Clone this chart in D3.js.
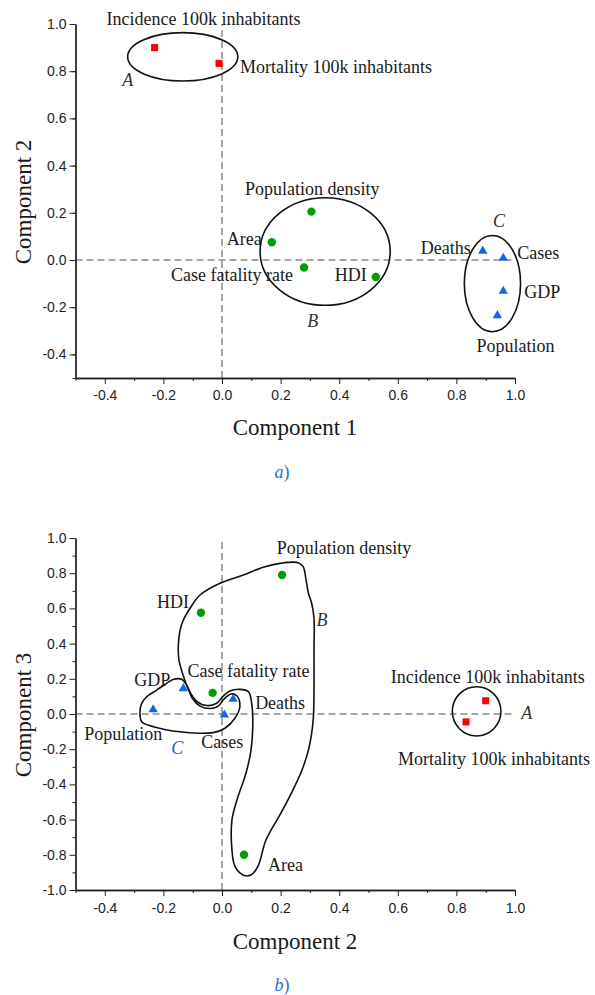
<!DOCTYPE html>
<html>
<head>
<meta charset="utf-8">
<script src="https://cdn.jsdelivr.net/npm/d3@7"></script>
<style>
  body { margin: 0; background: #fff; }
  svg { display: block; }
  .tick text { font-family: "Liberation Sans", Arial, sans-serif; font-size: 14px; fill: #222; }
  .lbl { font-family: "Liberation Serif", "Times New Roman", serif; font-size: 18px; fill: #1a1a1a; }
  .grp { font-family: "Liberation Serif", "Times New Roman", serif; font-size: 18px; font-style: italic; fill: #333; }
  .title { font-family: "Liberation Serif", "Times New Roman", serif; font-size: 23px; fill: #1a1a1a; }
  .cap { font-family: "Liberation Serif", "Times New Roman", serif; font-size: 18px; font-style: italic; fill: #1f6fd6; }
</style>
</head>
<body>
<svg id="chart" width="595" height="995"></svg>
<script>
// loadings
const variables = ['Incidence 100k inhabitants', 'Mortality 100k inhabitants', 'Population density', 'Area',
  'Case fatality rate', 'HDI', 'Deaths', 'Cases', 'GDP', 'Population']
const groups = ['A', 'A', 'B', 'B', 'B', 'B', 'C', 'C', 'C', 'C']
const comp1 = [-0.23, -0.01, 0.305, 0.17, 0.28, 0.525, 0.89, 0.96, 0.96, 0.94]
const comp2 = [0.90, 0.833, 0.205, 0.075, -0.032, -0.072, 0.038, 0.008, -0.132, -0.235]
const comp3 = [0.075, -0.045, 0.79, -0.80, 0.12, 0.575, 0.085, -0.005, 0.145, 0.025]

const xTicks = [-0.4, -0.2, 0.0, 0.2, 0.4, 0.6, 0.8, 1.0]
const yTicksA = [-0.4, -0.2, 0.0, 0.2, 0.4, 0.6, 0.8, 1.0]
const yTicksB = [-1.0, -0.8, -0.6, -0.4, -0.2, 0.0, 0.2, 0.4, 0.6, 0.8, 1.0]

// group outlines, in data units
const ellipsesA = [
  {cx: -0.134, cy: 0.861, rx: 0.188, ry: 0.1025},
  {cx: 0.352, cy: 0.036, rx: 0.222, ry: 0.228},
  {cx: 0.923, cy: -0.100, rx: 0.096, ry: 0.204},
]
const ellipsesB = [{cx: 0.869, cy: 0.015, rx: 0.083, ry: 0.14}]
const outlineB = [[-0.143, 0.477], [-0.132, 0.534], [-0.109, 0.601], [-0.075, 0.676], [-0.007, 0.743], [0.073, 0.790],
  [0.141, 0.834], [0.198, 0.856], [0.260, 0.860], [0.277, 0.837], [0.287, 0.761], [0.295, 0.686], [0.306, 0.629],
  [0.314, 0.544], [0.314, 0.364], [0.314, 0.136], [0.312, -0.015], [0.306, -0.110], [0.295, -0.205], [0.273, -0.318],
  [0.242, -0.432], [0.201, -0.563], [0.150, -0.716], [0.123, -0.864], [0.099, -0.915], [0.072, -0.915], [0.044, -0.864],
  [0.034, -0.773], [0.034, -0.602], [0.051, -0.489], [0.082, -0.335], [0.099, -0.205], [0.105, -0.072], [0.102, 0.051],
  [0.090, 0.127], [0.061, 0.140], [0.027, 0.131], [0.004, 0.102], [-0.018, 0.061], [-0.051, 0.048], [-0.085, 0.071],
  [-0.113, 0.136], [-0.133, 0.222], [-0.147, 0.307], [-0.149, 0.392]]
const outlineC = [[-0.280, 0.006], [-0.274, 0.061], [-0.257, 0.098], [-0.223, 0.136], [-0.189, 0.174], [-0.167, 0.196],
  [-0.138, 0.197], [-0.119, 0.159], [-0.102, 0.091], [-0.075, 0.045], [-0.041, 0.031], [-0.014, 0.043], [0.007, 0.085],
  [0.031, 0.114], [0.051, 0.102], [0.061, 0.041], [0.044, -0.024], [0.010, -0.081], [-0.030, -0.106], [-0.143, -0.101],
  [-0.234, -0.072], [-0.274, -0.044]]

// label placement: [anchor, dx, dy] in px from the marker
const placeA = {
  'Incidence 100k inhabitants': ['start', -48, -29], 'Mortality 100k inhabitants': ['start', 21, 4],
  'Population density': ['middle', 1, -23], 'Area': ['end', -10, -3], 'Case fatality rate': ['end', -11, 7],
  'HDI': ['end', -9, -2], 'Deaths': ['end', -12, -3], 'Cases': ['start', 14, -5], 'GDP': ['start', 21, 1],
  'Population': ['middle', 18, 31],
}
const placeB = {
  'Incidence 100k inhabitants': ['middle', 2, -24], 'Mortality 100k inhabitants': ['middle', 28, 37],
  'Population density': ['middle', 62, -27], 'Area': ['start', 24, 10], 'Case fatality rate': ['start', -25, -22],
  'HDI': ['end', -12, -11], 'Deaths': ['start', 22, 4], 'Cases': ['middle', -2, 27], 'GDP': ['end', -13, -8],
  'Population': ['middle', -30, 24],
}
const groupLetterA = [{t: 'A', x: -0.322, y: 0.763}, {t: 'B', x: 0.31, y: -0.258}, {t: 'C', x: 0.945, y: 0.167}]
const groupLetterB = [{t: 'B', x: 0.341, y: 0.534}, {t: 'C', x: -0.153, y: -0.191, blue: true}, {t: 'A', x: 1.04, y: 0.007}]

const colors = {A: '#ff0000', B: '#009e00', C: '#1464f0'}
const serif = '"Liberation Serif", "Times New Roman", serif'
const svg = d3.select('#chart')

function drawPanel(opt) {
  const x = d3.scaleLinear().domain([-0.5, 1.0]).range([75.5, 515])
  const y = d3.scaleLinear().domain(opt.yDomain).range(opt.yRange)
  const g = svg.append('g')
  const y0 = opt.yRange[0]

  // dashed zero lines
  g.append('line').attr('x1', x(-0.5)).attr('x2', x(1.0)).attr('y1', y(0)).attr('y2', y(0))
    .attr('stroke', '#8a8a8a').attr('stroke-width', 1.5).attr('stroke-dasharray', '7,4')
  g.append('line').attr('x1', x(0)).attr('x2', x(0)).attr('y1', y(opt.yDomain[0])).attr('y2', y(1.0))
    .attr('stroke', '#8a8a8a').attr('stroke-width', 1.5).attr('stroke-dasharray', '7,4')

  // axes with minor ticks
  const fmt = d => d.toFixed(1)
  const xMinor = d3.range(-5, 10, 2).map(d => d / 10)
  const yMinor = d3.range(Math.round(opt.yDomain[0] * 10) + 1, 10, 2).map(d => d / 10)
  if (opt.yDomain[0] === -0.5) yMinor.unshift(-0.5)

  g.append('g').attr('transform', `translate(0,${y0})`)
    .call(d3.axisBottom(x).tickValues(xMinor).tickSize(3).tickSizeOuter(0).tickFormat(''))
  g.append('g').attr('transform', `translate(0,${y0})`)
    .call(d3.axisBottom(x).tickValues(xTicks).tickSize(6).tickSizeOuter(0).tickPadding(opt.xPad).tickFormat(fmt))
  g.append('g').attr('transform', `translate(${x(-0.5)},0)`)
    .call(d3.axisLeft(y).tickValues(yMinor).tickSize(3).tickSizeOuter(0).tickFormat(''))
  g.append('g').attr('transform', `translate(${x(-0.5)},0)`)
    .call(d3.axisLeft(y).tickValues(opt.yTicks).tickSize(6).tickSizeOuter(0).tickPadding(3).tickFormat(fmt))
  g.selectAll('.domain').attr('stroke', '#222').attr('stroke-width', 1.3)
  g.selectAll('.tick line').attr('stroke', '#222')

  // outlines
  opt.ellipses.forEach(e => {
    g.append('ellipse').attr('cx', x(e.cx)).attr('cy', y(e.cy))
      .attr('rx', x(e.cx + e.rx) - x(e.cx)).attr('ry', y(e.cy) - y(e.cy + e.ry))
      .attr('fill', 'none').attr('stroke', '#111').attr('stroke-width', 1.6)
  })
  const line = d3.line().x(d => x(d[0])).y(d => y(d[1])).curve(d3.curveCatmullRomClosed.alpha(0.5))
  ;(opt.outlines || []).forEach(o => {
    g.append('path').attr('d', line(o)).attr('fill', 'none').attr('stroke', '#111').attr('stroke-width', 1.6)
  })

  // markers
  const pts = variables.map((v, i) => ({name: v, group: groups[i], px: x(opt.xVals[i]), py: y(opt.yVals[i])}))
  const sym = {A: d3.symbolSquare, B: d3.symbolCircle, C: d3.symbolTriangle}
  const size = {A: 50, B: 55, C: 38}
  g.selectAll('path.pt').data(pts).join('path').attr('class', 'pt')
    .attr('transform', d => `translate(${d.px},${d.py})`)
    .attr('d', d => d3.symbol(sym[d.group], size[d.group])())
    .attr('fill', d => colors[d.group])

  // labels
  g.selectAll('text.lbl').data(pts).join('text').attr('class', 'lbl')
    .attr('x', d => d.px + opt.place[d.name][1]).attr('y', d => d.py + opt.place[d.name][2])
    .attr('text-anchor', d => opt.place[d.name][0]).attr('dominant-baseline', 'central')
    .style('font-family', serif)
    .text(d => d.name)

  g.selectAll('text.grp').data(opt.letters).join('text').attr('class', 'grp')
    .attr('x', d => x(d.x)).attr('y', d => y(d.y))
    .attr('text-anchor', 'middle').attr('dominant-baseline', 'central')
    .style('font-family', serif)
    .style('fill', d => d.blue ? '#1f5fc8' : null)
    .text(d => d.t)

  // titles
  g.append('text').attr('class', 'title').attr('x', 295).attr('y', opt.xTitleY)
    .attr('text-anchor', 'middle').attr('dominant-baseline', 'central')
    .style('font-family', serif).text(opt.xTitle)
  g.append('text').attr('class', 'title')
    .attr('transform', `translate(31,${opt.yTitleY}) rotate(-90)`)
    .attr('text-anchor', 'middle').style('font-family', serif).text(opt.yTitle)
  g.append('text').attr('class', 'cap').attr('x', 282).attr('y', opt.capY)
    .attr('text-anchor', 'middle').attr('dominant-baseline', 'central').style('font-family', serif)
    .text(opt.cap[0]).append('tspan').style('font-style', 'normal').text(')')
}

drawPanel({
  xVals: comp1, yVals: comp2, yDomain: [-0.5, 1.0], yRange: [378, 24], yTicks: yTicksA, xPad: 6,
  ellipses: ellipsesA, place: placeA, letters: groupLetterA,
  xTitle: 'Component 1', yTitle: 'Component 2', xTitleY: 427, yTitleY: 202, cap: 'a', capY: 472,
})
drawPanel({
  xVals: comp2, yVals: comp3, yDomain: [-1.0, 1.0], yRange: [890, 538], yTicks: yTicksB, xPad: 7,
  ellipses: ellipsesB, outlines: [outlineB, outlineC], place: placeB, letters: groupLetterB,
  xTitle: 'Component 2', yTitle: 'Component 3', xTitleY: 941, yTitleY: 715, cap: 'b', capY: 985,
})
</script>
</body>
</html>
